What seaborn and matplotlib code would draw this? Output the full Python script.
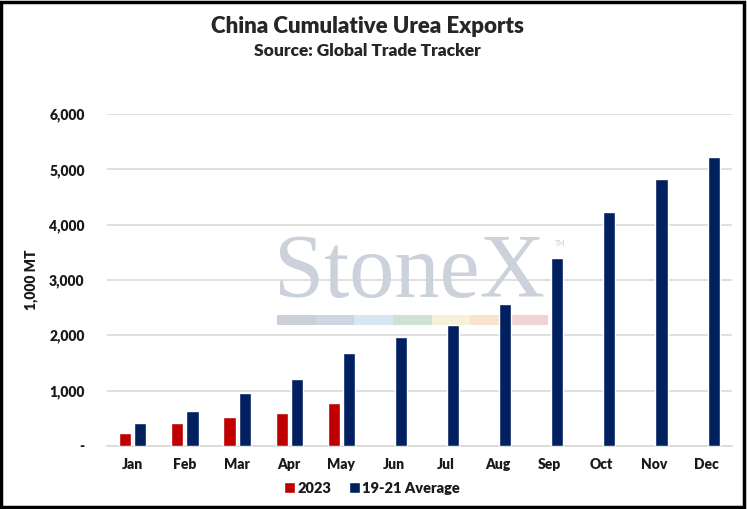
import numpy as np
import pandas as pd
import matplotlib
matplotlib.use("Agg")
import matplotlib.pyplot as plt
from matplotlib.patches import Rectangle
import seaborn as sns

# -----------------------------------------------------------------------------
# Data (1,000 MT, cumulative)
# -----------------------------------------------------------------------------
months = ["Jan", "Feb", "Mar", "Apr", "May", "Jun",
          "Jul", "Aug", "Sep", "Oct", "Nov", "Dec"]
exports_2023 = [240, 410, 518, 602, 783, np.nan,
                np.nan, np.nan, np.nan, np.nan, np.nan, np.nan]
exports_avg = [410, 638, 963, 1211, 1681, 1967,
               2191, 2571, 3390, 4222, 4819, 5222]
series_names = ["2023", "19-21 Average"]
series_colors = ["#C00000", "#002060"]
y_ticks = [0, 1000, 2000, 3000, 4000, 5000, 6000]
y_tick_labels = ["-", "1,000", "2,000", "3,000", "4,000", "5,000", "6,000"]

df = pd.DataFrame({
    "month": months * 2,
    "value": exports_2023 + exports_avg,
    "series": [series_names[0]] * 12 + [series_names[1]] * 12,
})

sns.set_style("white")
plt.rcParams["font.family"] = ["Lato", "DejaVu Sans"]
W = "heavy"

fig = plt.figure(figsize=(7.47, 5.09), dpi=100)
ax = fig.add_axes([0.143, 0.124, 0.837, 0.652])

sns.barplot(
    data=df, x="month", y="value", hue="series",
    order=months, hue_order=series_names, palette=series_colors,
    width=0.58, gap=0.2, errorbar=None, ax=ax, zorder=3,
    saturation=1,
)

ax.set_ylim(0, 6000)
ax.set_xlim(-0.5, 11.5)
ax.set_yticks(y_ticks)
ax.set_yticklabels(y_tick_labels)
ax.yaxis.grid(True, color="#D9D9D9", linewidth=1.2, zorder=0)
ax.set_axisbelow(True)
for side in ["left", "right", "top"]:
    ax.spines[side].set_visible(False)
ax.spines["bottom"].set_color("#D9D9D9")
ax.spines["bottom"].set_linewidth(1.2)
ax.tick_params(axis="both", length=0, labelsize=10, colors="#1a1a1a")
ax.tick_params(axis="y", pad=16)
ax.tick_params(axis="x", pad=9)
for lbl in ax.get_xticklabels() + ax.get_yticklabels():
    lbl.set_fontweight(W)
ax.set_xlabel("")
ax.set_ylabel("1,000 MT", fontsize=10, fontweight=W, labelpad=8, color="#1a1a1a")

# watermark
ax.text(0.268, 0.515, "StoneX", transform=ax.transAxes, family="Liberation Serif",
        fontsize=65, color="#CBD2DB", ha="left", va="center", zorder=1)
ax.text(0.716, 0.61, "TM", transform=ax.transAxes, fontsize=5,
        color="#C9D1DB", ha="left", va="center", zorder=1)
stripe = ["#CACFD8", "#CDD6E1", "#D8E6F1", "#D0E0D4", "#F6F2D8", "#F8E3CC", "#F1D2D5"]
sx0, sw = 0.272, 0.0619
for i, c in enumerate(stripe):
    ax.add_patch(Rectangle((sx0 + i * sw, 0.365), sw, 0.03, transform=ax.transAxes,
                           color=c, zorder=1, linewidth=0))

leg = ax.legend(loc="upper center", bbox_to_anchor=(0.424, -0.09), ncol=2,
                frameon=False, fontsize=10.5, handlelength=0.75, handleheight=0.75,
                handletextpad=0.15, columnspacing=1.2, borderaxespad=0)
for t in leg.get_texts():
    t.set_fontweight(W)
    t.set_color("#1a1a1a")

fig.text(0.492, 0.948, "China Cumulative Urea Exports", ha="center", va="center",
         fontsize=16, fontweight=W)
fig.text(0.492, 0.900, "Source: Global Trade Tracker", ha="center", va="center",
         fontsize=12.5, fontweight=W)

fig.patches.append(Rectangle((0.002, 0.003), 0.994, 0.994, transform=fig.transFigure,
                             fill=False, edgecolor="black", linewidth=2.5))

fig.savefig("out.png", dpi=100)
